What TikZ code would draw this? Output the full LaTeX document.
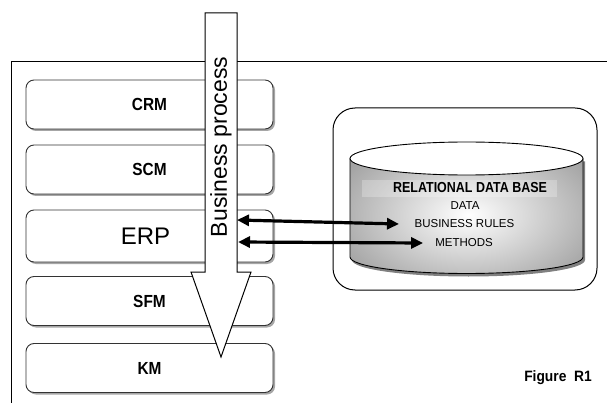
\documentclass[tikz,border=0pt]{standalone}
\usepackage{fontspec}
\setmainfont{Liberation Sans}
\usetikzlibrary{arrows.meta,shadows}

\tikzset{
  module/.style={draw=black!80, line width=0.9pt, rounded corners=8pt, fill=white,
    minimum width=247pt, minimum height=49pt, inner sep=0pt,
    drop shadow={shadow xshift=2pt, shadow yshift=-2pt, fill=black!35, opacity=1}},
  modlabel/.style={font=\bfseries\fontsize{17.5}{19}\selectfont, xscale=0.88},
  dblabel/.style={font=\fontsize{11.5}{13}\selectfont, inner sep=1pt},
  link/.style={line width=3.2pt, {Triangle[length=12pt,width=11pt]}-{Triangle[length=12pt,width=11pt]}},
}

\begin{document}
\begin{tikzpicture}[x=1pt,y=-1pt]
  \useasboundingbox (0,0) rectangle (607,403);

  % outer frame (left and top edges)
  \draw[line width=1pt] (11,403) -- (11,62) -- (607,62);

  % application modules
  \node[module] (crm) at (149.5,104.5) {};
  \node[module] (scm) at (149.5,169.5) {};
  \node[module, minimum height=52pt] (erp) at (149.5,236) {};
  \node[module] (sfm) at (149.5,301) {};
  \node[module] (km)  at (149.5,368) {};
  \node[modlabel] at (crm) {CRM};
  \node[modlabel] at (scm) {SCM};
  \node[font=\fontsize{24}{26}\selectfont] at ([xshift=-4pt]erp.center) {ERP};
  \node[modlabel] at (sfm) {SFM};
  \node[modlabel] at (km)  {KM};

  % database container
  \node[draw, line width=1pt, rounded corners=22pt, minimum width=264pt, minimum height=182pt]
    (dbbox) at (465,199) {};

  % cylinder shadow
  \fill[black!50] (352,161.5) -- (352,260) arc[start angle=180, end angle=0, x radius=116.5, y radius=16.5]
    -- (585,161.5) -- cycle;
  % cylinder body with shading
  \begin{scope}
    \path[clip] (350,158.5) -- (350,257) arc[start angle=180, end angle=0, x radius=116.5, y radius=16.5]
      -- (583,158.5) -- cycle;
    \shade[inner color=white, outer color=black!38] (468,215) ellipse[x radius=150, y radius=90];
  \end{scope}
  \draw[line width=0.9pt] (350,158.5) -- (350,257) arc[start angle=180, end angle=0, x radius=116.5, y radius=16.5]
      -- (583,158.5);
  \draw[line width=0.9pt, fill=white] (466.5,158.5) ellipse[x radius=116.5, y radius=16.5];

  % database contents
  \fill[white, opacity=0.25] (362,180) rectangle (557,197);
  \node[font=\bfseries\fontsize{14.5}{16}\selectfont, xscale=0.86] (rdb) at (470,188) {RELATIONAL DATA BASE};
  \node[dblabel] (data) at (465,205.5) {DATA};
  \node[dblabel] (rules) at (464.5,224) {BUSINESS RULES};
  \node[dblabel] (methods) at (464,243) {METHODS};

  % business process arrow
  \draw[line width=1pt, fill=white] (205,13) -- (237,13) -- (237,272) -- (251,272) -- (221,357)
    -- (191,272) -- (205,272) -- cycle;
  \node[rotate=90, font=\fontsize{23}{25}\selectfont] (bp) at (221,147) {Business process};

  % links between the process flow and the database
  \coordinate (p1) at (237,220);
  \coordinate (p2) at (238,242);
  \draw[link] (p1) -- (rules.west -| 399,0);
  \draw[link] (p2) -- ([xshift=-11pt]methods.west);

  % caption
  \node[font=\bfseries\fontsize{15}{17}\selectfont, xscale=0.92] (cap) at (558,378) {Figure\ \ R1};
\end{tikzpicture}
\end{document}
